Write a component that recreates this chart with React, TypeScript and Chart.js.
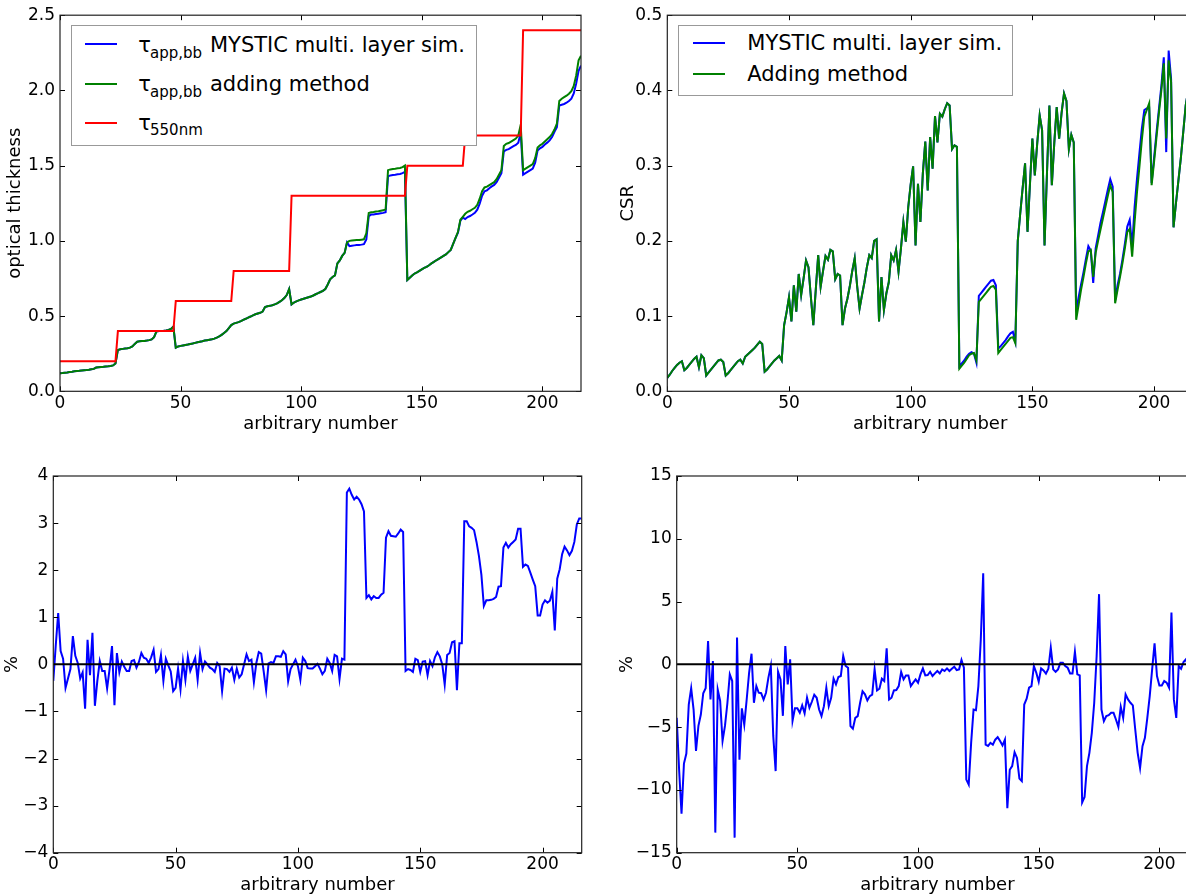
import React, { useEffect, useRef } from "react";
import { Chart, registerables } from "chart.js";

Chart.register(...registerables);

const FONT = '"DejaVu Sans", "Bitstream Vera Sans", sans-serif';

// sample numbers (x categories) 0..216
const sampleNumbers: number[] = Array.from({ length: 217 }, (_, i) => i);

// x axis ticks
const xTickValues = [0, 50, 100, 150, 200];
const xTickLabels = ["0", "50", "100", "150", "200"];

// top-left: optical thickness
const tlYTicks = [0, 0.5, 1, 1.5, 2, 2.5];
const tlYLabels = ["0.0", "0.5", "1.0", "1.5", "2.0", "2.5"];

const tauAdding = [
  0.120, 0.121, 0.123, 0.125, 0.128, 0.130, 0.133, 0.135, 0.136, 0.138, 0.140, 0.141, 0.143, 0.146, 0.149, 0.158, 0.160, 0.162, 0.163, 0.165, 0.166, 0.168, 0.172, 0.185,
  0.275, 0.280, 0.282, 0.284, 0.286, 0.290, 0.298, 0.315, 0.330, 0.332, 0.334, 0.335, 0.337, 0.340, 0.345, 0.360, 0.398, 0.400, 0.401, 0.402, 0.404, 0.408, 0.415, 0.430,
  0.290, 0.298, 0.302, 0.305, 0.308, 0.311, 0.315, 0.318, 0.322, 0.326, 0.330, 0.333, 0.337, 0.340, 0.343, 0.346, 0.350, 0.357, 0.365, 0.375, 0.388, 0.400, 0.420, 0.440,
  0.450, 0.455, 0.460, 0.467, 0.475, 0.482, 0.490, 0.497, 0.505, 0.512, 0.517, 0.522, 0.530, 0.560, 0.565, 0.568, 0.572, 0.578, 0.585, 0.595, 0.605, 0.620, 0.640, 0.680,
  0.578, 0.590, 0.598, 0.604, 0.610, 0.615, 0.620, 0.625, 0.630, 0.637, 0.645, 0.652, 0.660, 0.668, 0.680, 0.710, 0.745, 0.760, 0.770, 0.850, 0.870, 0.900, 0.920, 0.990,
  1.000, 1.002, 1.004, 1.005, 1.006, 1.008, 1.010, 1.050, 1.185, 1.190, 1.192, 1.195, 1.197, 1.200, 1.203, 1.210, 1.470, 1.475, 1.478, 1.480, 1.483, 1.485, 1.490, 1.500,
  0.740, 0.755, 0.770, 0.783, 0.790, 0.800, 0.810, 0.820, 0.827, 0.838, 0.850, 0.860, 0.871, 0.880, 0.890, 0.900, 0.910, 0.925, 0.940, 0.980, 1.020, 1.060, 1.140, 1.160,
  1.180, 1.193, 1.200, 1.210, 1.220, 1.240, 1.280, 1.330, 1.355, 1.360, 1.370, 1.380, 1.390, 1.410, 1.440, 1.470, 1.630, 1.645, 1.650, 1.660, 1.670, 1.680, 1.700, 1.770,
  1.470, 1.480, 1.490, 1.500, 1.510, 1.550, 1.620, 1.635, 1.645, 1.660, 1.675, 1.690, 1.710, 1.740, 1.780, 1.930, 1.945, 1.955, 1.965, 1.978, 1.995, 2.030, 2.100, 2.200, 2.230,
];

const tauMystic = [
  0.120, 0.121, 0.123, 0.125, 0.128, 0.130, 0.133, 0.135, 0.136, 0.138, 0.140, 0.141, 0.143, 0.146, 0.149, 0.158, 0.160, 0.162, 0.163, 0.165, 0.166, 0.168, 0.172, 0.185,
  0.275, 0.280, 0.282, 0.284, 0.286, 0.290, 0.298, 0.315, 0.330, 0.332, 0.334, 0.335, 0.337, 0.340, 0.345, 0.360, 0.398, 0.400, 0.401, 0.402, 0.404, 0.408, 0.415, 0.430,
  0.290, 0.298, 0.302, 0.305, 0.308, 0.311, 0.315, 0.318, 0.322, 0.326, 0.330, 0.333, 0.337, 0.340, 0.343, 0.346, 0.350, 0.357, 0.365, 0.375, 0.388, 0.400, 0.420, 0.440,
  0.450, 0.455, 0.460, 0.467, 0.475, 0.482, 0.490, 0.497, 0.505, 0.512, 0.517, 0.522, 0.530, 0.560, 0.565, 0.568, 0.572, 0.578, 0.585, 0.595, 0.605, 0.620, 0.640, 0.680,
  0.578, 0.590, 0.598, 0.604, 0.610, 0.615, 0.620, 0.625, 0.630, 0.637, 0.645, 0.652, 0.660, 0.668, 0.680, 0.710, 0.745, 0.760, 0.770, 0.850, 0.870, 0.900, 0.920, 0.990,
  0.965, 0.968, 0.970, 0.972, 0.973, 0.975, 0.978, 1.010, 1.165, 1.175, 1.176, 1.178, 1.180, 1.183, 1.186, 1.190, 1.430, 1.435, 1.438, 1.440, 1.443, 1.445, 1.450, 1.458,
  0.740, 0.755, 0.770, 0.783, 0.790, 0.800, 0.810, 0.820, 0.827, 0.838, 0.850, 0.860, 0.871, 0.880, 0.890, 0.900, 0.910, 0.925, 0.940, 0.980, 1.020, 1.055, 1.135, 1.155,
  1.145, 1.158, 1.165, 1.175, 1.186, 1.207, 1.248, 1.300, 1.330, 1.336, 1.350, 1.362, 1.372, 1.390, 1.420, 1.450, 1.595, 1.605, 1.610, 1.620, 1.630, 1.638, 1.653, 1.720,
  1.440, 1.450, 1.460, 1.470, 1.480, 1.520, 1.600, 1.615, 1.625, 1.640, 1.653, 1.668, 1.690, 1.725, 1.755, 1.900, 1.905, 1.910, 1.918, 1.930, 1.945, 1.980, 2.045, 2.130, 2.165,
];

const tau550 = [
  0.2, 0.2, 0.2, 0.2, 0.2, 0.2, 0.2, 0.2, 0.2, 0.2, 0.2, 0.2, 0.2, 0.2, 0.2, 0.2, 0.2, 0.2, 0.2, 0.2, 0.2, 0.2, 0.2, 0.2,
  0.4, 0.4, 0.4, 0.4, 0.4, 0.4, 0.4, 0.4, 0.4, 0.4, 0.4, 0.4, 0.4, 0.4, 0.4, 0.4, 0.4, 0.4, 0.4, 0.4, 0.4, 0.4, 0.4, 0.4,
  0.6, 0.6, 0.6, 0.6, 0.6, 0.6, 0.6, 0.6, 0.6, 0.6, 0.6, 0.6, 0.6, 0.6, 0.6, 0.6, 0.6, 0.6, 0.6, 0.6, 0.6, 0.6, 0.6, 0.6,
  0.8, 0.8, 0.8, 0.8, 0.8, 0.8, 0.8, 0.8, 0.8, 0.8, 0.8, 0.8, 0.8, 0.8, 0.8, 0.8, 0.8, 0.8, 0.8, 0.8, 0.8, 0.8, 0.8, 0.8,
  1.3, 1.3, 1.3, 1.3, 1.3, 1.3, 1.3, 1.3, 1.3, 1.3, 1.3, 1.3, 1.3, 1.3, 1.3, 1.3, 1.3, 1.3, 1.3, 1.3, 1.3, 1.3, 1.3, 1.3,
  1.3, 1.3, 1.3, 1.3, 1.3, 1.3, 1.3, 1.3, 1.3, 1.3, 1.3, 1.3, 1.3, 1.3, 1.3, 1.3, 1.3, 1.3, 1.3, 1.3, 1.3, 1.3, 1.3, 1.3,
  1.5, 1.5, 1.5, 1.5, 1.5, 1.5, 1.5, 1.5, 1.5, 1.5, 1.5, 1.5, 1.5, 1.5, 1.5, 1.5, 1.5, 1.5, 1.5, 1.5, 1.5, 1.5, 1.5, 1.5,
  1.7, 1.7, 1.7, 1.7, 1.7, 1.7, 1.7, 1.7, 1.7, 1.7, 1.7, 1.7, 1.7, 1.7, 1.7, 1.7, 1.7, 1.7, 1.7, 1.7, 1.7, 1.7, 1.7, 1.7,
  2.4, 2.4, 2.4, 2.4, 2.4, 2.4, 2.4, 2.4, 2.4, 2.4, 2.4, 2.4, 2.4, 2.4, 2.4, 2.4, 2.4, 2.4, 2.4, 2.4, 2.4, 2.4, 2.4, 2.4, 2.4,
];

// top-right: CSR
const trYTicks = [0, 0.1, 0.2, 0.3, 0.4, 0.5];
const trYLabels = ["0.0", "0.1", "0.2", "0.3", "0.4", "0.5"];

const csrAdding = [
  0.018, 0.022, 0.027, 0.031, 0.035, 0.038, 0.040, 0.028, 0.031, 0.035, 0.039, 0.043, 0.046, 0.032, 0.048, 0.044, 0.021, 0.025, 0.029, 0.033, 0.037, 0.041, 0.042, 0.039,
  0.021, 0.024, 0.028, 0.032, 0.036, 0.040, 0.042, 0.037, 0.046, 0.049, 0.052, 0.055, 0.058, 0.062, 0.066, 0.063, 0.026, 0.029, 0.033, 0.037, 0.041, 0.044, 0.047, 0.041,
  0.088, 0.105, 0.125, 0.093, 0.141, 0.106, 0.156, 0.128, 0.150, 0.174, 0.165, 0.125, 0.088, 0.135, 0.181, 0.139, 0.160, 0.180, 0.175, 0.188, 0.186, 0.149, 0.156, 0.154,
  0.088, 0.110, 0.123, 0.140, 0.160, 0.177, 0.140, 0.110, 0.128, 0.145, 0.165, 0.181, 0.177, 0.200, 0.202, 0.093, 0.152, 0.108, 0.130, 0.145, 0.181, 0.174, 0.188, 0.159,
  0.190, 0.225, 0.199, 0.245, 0.275, 0.299, 0.194, 0.276, 0.225, 0.290, 0.332, 0.267, 0.338, 0.296, 0.366, 0.331, 0.369, 0.365, 0.375, 0.383, 0.380, 0.322, 0.327, 0.325,
  0.030, 0.034, 0.038, 0.043, 0.048, 0.050, 0.051, 0.041, 0.119, 0.123, 0.127, 0.131, 0.135, 0.139, 0.140, 0.135, 0.051, 0.055, 0.059, 0.063, 0.067, 0.071, 0.072, 0.064,
  0.200, 0.236, 0.270, 0.303, 0.212, 0.275, 0.336, 0.287, 0.330, 0.367, 0.347, 0.194, 0.290, 0.380, 0.274, 0.330, 0.378, 0.336, 0.370, 0.396, 0.386, 0.322, 0.341, 0.331,
  0.095, 0.115, 0.135, 0.152, 0.170, 0.186, 0.188, 0.152, 0.184, 0.200, 0.215, 0.230, 0.245, 0.260, 0.274, 0.265, 0.117, 0.135, 0.152, 0.170, 0.190, 0.212, 0.216, 0.179,
  0.225, 0.265, 0.299, 0.335, 0.365, 0.374, 0.383, 0.274, 0.305, 0.338, 0.370, 0.400, 0.436, 0.336, 0.440, 0.411, 0.218, 0.250, 0.280, 0.310, 0.345, 0.380, 0.400, 0.410, 0.420,
];

const csrMystic = [
  0.018, 0.022, 0.027, 0.031, 0.035, 0.038, 0.040, 0.028, 0.031, 0.035, 0.039, 0.043, 0.046, 0.032, 0.048, 0.044, 0.021, 0.025, 0.029, 0.033, 0.037, 0.041, 0.042, 0.039,
  0.021, 0.024, 0.028, 0.032, 0.036, 0.040, 0.042, 0.037, 0.046, 0.049, 0.052, 0.055, 0.058, 0.062, 0.066, 0.063, 0.026, 0.029, 0.033, 0.037, 0.041, 0.044, 0.047, 0.041,
  0.088, 0.105, 0.125, 0.093, 0.141, 0.106, 0.156, 0.128, 0.150, 0.174, 0.165, 0.125, 0.088, 0.135, 0.181, 0.139, 0.160, 0.180, 0.175, 0.188, 0.186, 0.149, 0.156, 0.154,
  0.088, 0.110, 0.123, 0.140, 0.160, 0.177, 0.140, 0.110, 0.128, 0.145, 0.165, 0.181, 0.177, 0.200, 0.202, 0.093, 0.152, 0.108, 0.130, 0.145, 0.181, 0.174, 0.188, 0.159,
  0.190, 0.225, 0.199, 0.245, 0.275, 0.299, 0.194, 0.276, 0.225, 0.290, 0.332, 0.267, 0.338, 0.296, 0.366, 0.331, 0.369, 0.365, 0.375, 0.383, 0.380, 0.322, 0.327, 0.325,
  0.033, 0.037, 0.041, 0.046, 0.050, 0.052, 0.050, 0.038, 0.127, 0.131, 0.135, 0.139, 0.143, 0.147, 0.148, 0.141, 0.057, 0.060, 0.064, 0.068, 0.073, 0.077, 0.079, 0.066,
  0.200, 0.236, 0.270, 0.303, 0.212, 0.275, 0.336, 0.287, 0.330, 0.367, 0.347, 0.194, 0.290, 0.380, 0.274, 0.330, 0.378, 0.336, 0.370, 0.396, 0.386, 0.322, 0.341, 0.331,
  0.106, 0.125, 0.142, 0.158, 0.176, 0.193, 0.187, 0.144, 0.190, 0.207, 0.224, 0.238, 0.253, 0.268, 0.282, 0.272, 0.121, 0.141, 0.156, 0.175, 0.196, 0.219, 0.228, 0.192,
  0.245, 0.283, 0.317, 0.350, 0.374, 0.376, 0.377, 0.277, 0.310, 0.344, 0.375, 0.406, 0.444, 0.318, 0.453, 0.415, 0.218, 0.250, 0.280, 0.310, 0.345, 0.380, 0.400, 0.410, 0.420,
];

// bottom-left: relative difference of tau (%)
const blYTicks = [-4, -3, -2, -1, 0, 1, 2, 3, 4];
const blYLabels = ["\u22124", "\u22123", "\u22122", "\u22121", "0", "1", "2", "3", "4"];

const tauDiffPct = [
  -0.35, 0.40, 1.09, 0.28, 0.12, -0.50, -0.30, -0.10, 0.60, 0.18, 0.03, -0.30, -0.17, -0.94, 0.52, -0.23, 0.67, -0.88, -0.35, 0.07, -0.14, -0.14, -0.51, -0.10,
  0.39, -0.87, 0.24, -0.17, 0.06, -0.05, -0.14, -0.14, 0.07, 0.09, -0.07, 0.05, 0.24, 0.14, 0.12, 0.03, 0.15, 0.31, -0.16, -0.10, 0.20, -0.35, 0.12, -0.02,
  -0.15, -0.57, -0.50, -0.09, -0.53, 0.07, -0.33, 0.16, -0.14, 0.00, 0.14, -0.33, 0.24, -0.10, 0.06, 0.00, -0.07, -0.10, -0.16, 0.03, -0.04, -0.57, -0.09, -0.10,
  -0.16, -0.07, -0.33, -0.09, -0.28, -0.21, 0.00, 0.21, 0.07, 0.10, -0.38, 0.03, 0.26, 0.23, -0.15, -0.55, 0.02, 0.05, 0.03, 0.17, 0.17, 0.16, 0.28, 0.21,
  -0.36, -0.10, 0.00, 0.10, -0.04, -0.33, 0.14, 0.07, -0.08, -0.09, -0.09, -0.04, 0.01, -0.09, -0.21, -0.14, 0.12, 0.03, -0.14, 0.20, 0.17, -0.31, 0.12, 0.10,
  3.65, 3.73, 3.60, 3.50, 3.56, 3.50, 3.40, 3.25, 1.41, 1.47, 1.38, 1.45, 1.41, 1.41, 1.48, 1.52, 2.69, 2.83, 2.73, 2.72, 2.71, 2.78, 2.86, 2.81,
  -0.14, -0.10, -0.12, -0.16, 0.12, 0.09, -0.16, 0.06, 0.07, -0.23, 0.07, -0.04, 0.15, 0.26, 0.17, 0.00, -0.43, 0.20, 0.24, 0.47, 0.49, -0.55, 0.45, 0.45,
  3.04, 3.04, 2.93, 2.90, 2.85, 2.60, 2.30, 1.90, 1.24, 1.36, 1.36, 1.37, 1.39, 1.43, 1.65, 1.66, 2.48, 2.58, 2.48, 2.55, 2.60, 2.65, 2.88, 2.88,
  2.07, 2.12, 2.09, 1.95, 1.80, 1.66, 1.04, 1.04, 1.27, 1.36, 1.31, 1.35, 1.54, 0.72, 1.82, 2.02, 2.34, 2.50, 2.42, 2.32, 2.41, 2.60, 2.97, 3.10, 3.10,
];

// bottom-right: relative difference of CSR (%)
const brYTicks = [-15, -10, -5, 0, 5, 10, 15];
const brYLabels = ["\u221215", "\u221210", "\u22125", "0", "5", "10", "15"];

const csrDiffPct = [
  -4.26, -8.4, -11.9, -7.9, -7.1, -3.2, -1.9, -3.6, -6.9, -4.9, -4.0, -2.3, -1.9, 1.86, -2.8, 0.27, -13.4, -2.0, -2.9, -6.1, -4.9, -3.1, -0.8, -1.33,
  -13.8, 2.13, -7.6, -3.5, -4.8, -2.8, -0.67, 0.85, -3.06, -1.73, -2.26, -2.3, -2.8, -2.26, -1.06, -0.13, -5.7, -8.5, -0.59, -1.2, -4.1, 1.46, -1.6, 0.4,
  -4.5, -3.5, -3.5, -3.86, -3.27, -3.9, -2.66, -3.46, -2.98, -2.42, -2.66, -3.6, -4.12, -3.33, -1.86, -3.33, -2.66, -1.14, -1.6, -1.01, -0.93, 0.67, -0.13, -0.27,
  -4.92, -5.13, -4.26, -4.12, -3.06, -2.15, -2.39, -2.87, -2.53, -2.42, -0.4, -2.08, -1.94, -1.14, -1.33, 1.28, -2.8, -2.66, -2.08, -2.05, -1.73, -0.61, -1.2, -0.88,
  -0.88, -1.73, -1.46, -1.2, -1.46, -0.8, -0.32, -0.88, -0.85, -0.59, -0.93, -0.72, -0.53, -0.72, -0.4, -0.53, -0.32, -0.53, -0.35, -0.19, -0.45, -0.4, 0.35, -0.27,
  -9.18, -9.58, -6.25, -3.6, -3.65, -1.73, 2.0, 7.26, -6.4, -6.5, -6.25, -6.4, -6.0, -5.8, -6.1, -6.46, -6.0, -11.45, -8.4, -8.1, -7.0, -7.45, -9.1, -9.3,
  -3.2, -2.74, -1.86, -1.73, -0.13, -0.67, -1.38, -0.32, -0.48, -0.74, -0.35, 1.33, -0.4, -0.59, -0.4, 0.13, 0.13, -0.13, -0.27, -0.72, -0.72, 1.01, -0.8, -0.88,
  -11.0, -10.56, -8.1, -7.05, -5.45, -3.06, 0.67, 5.59, -3.6, -4.52, -4.12, -4.05, -3.86, -3.86, -4.39, -4.98, -3.38, -4.26, -2.39, -2.79, -3.06, -3.27, -5.19, -7.05,
  -8.25, -6.52, -5.85, -4.26, -2.53, -0.4, 1.68, -0.93, -1.68, -1.68, -1.33, -1.46, -1.86, 4.12, -2.79, -4.26, -0.13, -0.35, 0.19, 0.4, -0.27, -1.46, -1.0, -0.6, -0.4,
];

const zeroLine = [
  { x: 0, y: 0 },
  { x: 216, y: 0 },
];

const X_MAX = 216;

// draws matplotlib-like frame and inward ticks using the chart's own scales
const framePlugin = {
  id: "mplFrame",
  afterDatasetsDraw(chart: any) {
    const { ctx, chartArea, scales } = chart;
    const { left, top, right, bottom } = chartArea;
    const L = 5;
    ctx.save();
    ctx.strokeStyle = "#000";
    ctx.lineWidth = 1;
    ctx.beginPath();
    scales.x.ticks.forEach((t: any) => {
      const px = Math.round(scales.x.getPixelForValue(t.value)) + 0.5;
      ctx.moveTo(px, bottom);
      ctx.lineTo(px, bottom - L);
      ctx.moveTo(px, top);
      ctx.lineTo(px, top + L);
    });
    scales.y.ticks.forEach((t: any) => {
      const py = Math.round(scales.y.getPixelForValue(t.value)) + 0.5;
      ctx.moveTo(left, py);
      ctx.lineTo(left + L, py);
      ctx.moveTo(right, py);
      ctx.lineTo(right - L, py);
    });
    ctx.stroke();
    ctx.strokeStyle = "#222";
    ctx.lineWidth = 1.2;
    ctx.strokeRect(left, top, right - left, bottom - top);
    ctx.restore();
  },
};

type Spec = {
  left: number;
  top: number;
  width: number;
  height: number;
  pad: { left: number; top: number; right: number; bottom: number };
  yAxisW: number;
  xAxisH: number;
  yMin: number;
  yMax: number;
  yTicks: number[];
  yLabels: string[];
  yTitle: string;
  yTitlePad: number;
  xTitlePad: number;
  datasets: any[];
};

function Panel({ spec }: { spec: Spec }) {
  const ref = useRef<HTMLCanvasElement | null>(null);
  useEffect(() => {
    if (!ref.current) return;
    const tickFont = { family: FONT, size: 17 };
    const titleFont = { family: FONT, size: 18 };
    const chart = new Chart(ref.current, {
      type: "line",
      data: { labels: sampleNumbers, datasets: spec.datasets },
      options: {
        responsive: false,
        animation: false,
        devicePixelRatio: 1,
        layout: { padding: spec.pad },
        plugins: { legend: { display: false }, tooltip: { enabled: false } },
        elements: { point: { radius: 0 }, line: { tension: 0, borderWidth: 2 } },
        scales: {
          x: {
            type: "linear",
            min: 0,
            max: X_MAX,
            grid: { display: false, drawTicks: false },
            border: { display: false },
            afterBuildTicks: (s: any) => {
              s.ticks = xTickValues.map((v) => ({ value: v }));
            },
            afterFit: (s: any) => {
              s.height = spec.xAxisH;
            },
            ticks: {
              autoSkip: false,
              maxRotation: 0,
              minRotation: 0,
              padding: 2,
              color: "#000",
              font: tickFont,
              callback: (_v: any, i: number) => xTickLabels[i],
            },
            title: {
              display: true,
              text: "arbitrary number",
              color: "#000",
              font: titleFont,
              padding: { top: 0, bottom: spec.xTitlePad },
            },
          },
          y: {
            type: "linear",
            min: spec.yMin,
            max: spec.yMax,
            grid: { display: false, drawTicks: false },
            border: { display: false },
            afterBuildTicks: (s: any) => {
              s.ticks = spec.yTicks.map((v) => ({ value: v }));
            },
            afterFit: (s: any) => {
              s.width = spec.yAxisW;
            },
            ticks: {
              autoSkip: false,
              padding: 5,
              color: "#000",
              font: tickFont,
              callback: (_v: any, i: number) => spec.yLabels[i],
            },
            title: {
              display: true,
              text: spec.yTitle,
              color: "#000",
              font: titleFont,
              padding: { top: spec.yTitlePad, bottom: 0 },
            },
          },
        },
      } as any,
      plugins: [framePlugin],
    });
    return () => chart.destroy();
  }, []);
  return (
    <canvas
      ref={ref}
      width={spec.width}
      height={spec.height}
      style={{ position: "absolute", left: spec.left, top: spec.top, width: spec.width, height: spec.height }}
    />
  );
}

const BLUE = "#0000ff";
const GREEN = "#008000";
const RED = "#ff0000";

const specs: Spec[] = [
  {
    left: 0, top: 0, width: 600, height: 440,
    pad: { left: 0, top: 15, right: 19, bottom: 0 },
    yAxisW: 60, xAxisH: 48.7,
    yMin: 0, yMax: 2.5, yTicks: tlYTicks, yLabels: tlYLabels,
    yTitle: "optical thickness", yTitlePad: 4.2, xTitlePad: 5.2,
    datasets: [
      { label: "τapp,bb MYSTIC multi. layer sim.", data: tauMystic, borderColor: BLUE, borderWidth: 2, pointRadius: 0, order: 2 },
      { label: "τapp,bb adding method", data: tauAdding, borderColor: GREEN, borderWidth: 2, pointRadius: 0, order: 1 },
      { label: "τ550nm", data: tau550, borderColor: RED, borderWidth: 2, pointRadius: 0, order: 0 },
    ],
  },
  {
    left: 600, top: 0, width: 620, height: 440,
    pad: { left: 0, top: 15, right: 27, bottom: 0 },
    yAxisW: 67.3, xAxisH: 48.7,
    yMin: 0, yMax: 0.5, yTicks: trYTicks, yLabels: trYLabels,
    yTitle: "CSR", yTitlePad: 17.4, xTitlePad: 5.2,
    datasets: [
      { label: "MYSTIC multi. layer sim.", data: csrMystic, borderColor: BLUE, borderWidth: 2, pointRadius: 0, order: 1 },
      { label: "Adding method", data: csrAdding, borderColor: GREEN, borderWidth: 2, pointRadius: 0, order: 0 },
    ],
  },
  {
    left: 0, top: 440, width: 600, height: 460,
    pad: { left: 0, top: 36, right: 18.3, bottom: 0 },
    yAxisW: 53.3, xAxisH: 47.3,
    yMin: -4, yMax: 4, yTicks: blYTicks, yLabels: blYLabels,
    yTitle: "%", yTitlePad: 1.4, xTitlePad: 3.8,
    datasets: [
      { label: "zero", data: zeroLine, borderColor: "#000", borderWidth: 2, pointRadius: 0, order: 0 },
      { label: "tau difference", data: tauDiffPct, borderColor: BLUE, borderWidth: 2, pointRadius: 0, order: 1 },
    ],
  },
  {
    left: 600, top: 440, width: 620, height: 460,
    pad: { left: 0, top: 36, right: 22, bottom: 0 },
    yAxisW: 76.7, xAxisH: 47.3,
    yMin: -15, yMax: 15, yTicks: brYTicks, yLabels: brYLabels,
    yTitle: "%", yTitlePad: 16.2, xTitlePad: 3.8,
    datasets: [
      { label: "zero", data: zeroLine, borderColor: "#000", borderWidth: 2, pointRadius: 0, order: 0 },
      { label: "CSR difference", data: csrDiffPct, borderColor: BLUE, borderWidth: 2, pointRadius: 0, order: 1 },
    ],
  },
];

function Txt({ x, baseline, size, children }: { x: number; baseline: number; size: number; children: any }) {
  return (
    <span
      style={{
        position: "absolute",
        left: x,
        top: baseline - 0.846 * size,
        fontSize: size,
        lineHeight: `${size}px`,
        fontFamily: FONT,
        color: "#000",
        whiteSpace: "nowrap",
      }}
    >
      {children}
    </span>
  );
}

function Swatch({ x, y, w, color }: { x: number; y: number; w: number; color: string }) {
  return <div style={{ position: "absolute", left: x, top: y - 1, width: w, height: 2, background: color }} />;
}

function Frame({ l, t, w, h }: { l: number; t: number; w: number; h: number }) {
  return (
    <div
      style={{
        position: "absolute",
        left: l,
        top: t,
        width: w,
        height: h,
        border: "1.5px solid #999",
        background: "#fff",
        boxSizing: "border-box",
      }}
    />
  );
}

export default function App() {
  return (
    <div
      style={{
        position: "fixed",
        left: 0,
        top: 0,
        width: 1186,
        height: 895,
        overflow: "hidden",
        background: "#fff",
      }}
    >
      {specs.map((s, i) => (
        <Panel key={i} spec={s} />
      ))}

      {/* top-left legend */}
      <Frame l={70.7} t={25} w={406} h={121} />
      <Swatch x={85} y={44} w={32} color={BLUE} />
      <Txt x={138.3} baseline={52.7} size={21}>τ</Txt>
      <Txt x={150} baseline={58.5} size={15}>app,bb</Txt>
      <Txt x={210} baseline={52.7} size={21}>MYSTIC multi. layer sim.</Txt>
      <Swatch x={85} y={84} w={32} color={GREEN} />
      <Txt x={138.3} baseline={91.5} size={21}>τ</Txt>
      <Txt x={150} baseline={97.5} size={15}>app,bb</Txt>
      <Txt x={210} baseline={91.5} size={21}>adding method</Txt>
      <Swatch x={85} y={123.3} w={32} color={RED} />
      <Txt x={138.3} baseline={130.5} size={21}>τ</Txt>
      <Txt x={150} baseline={136} size={15}>550nm</Txt>

      {/* top-right legend */}
      <Frame l={678.3} t={25} w={334.4} h={71} />
      <Swatch x={693.3} y={42.7} w={32} color={BLUE} />
      <Txt x={747.3} baseline={51} size={21}>MYSTIC multi. layer sim.</Txt>
      <Swatch x={693.3} y={74} w={32} color={GREEN} />
      <Txt x={747.3} baseline={81.5} size={21}>Adding method</Txt>
    </div>
  );
}
